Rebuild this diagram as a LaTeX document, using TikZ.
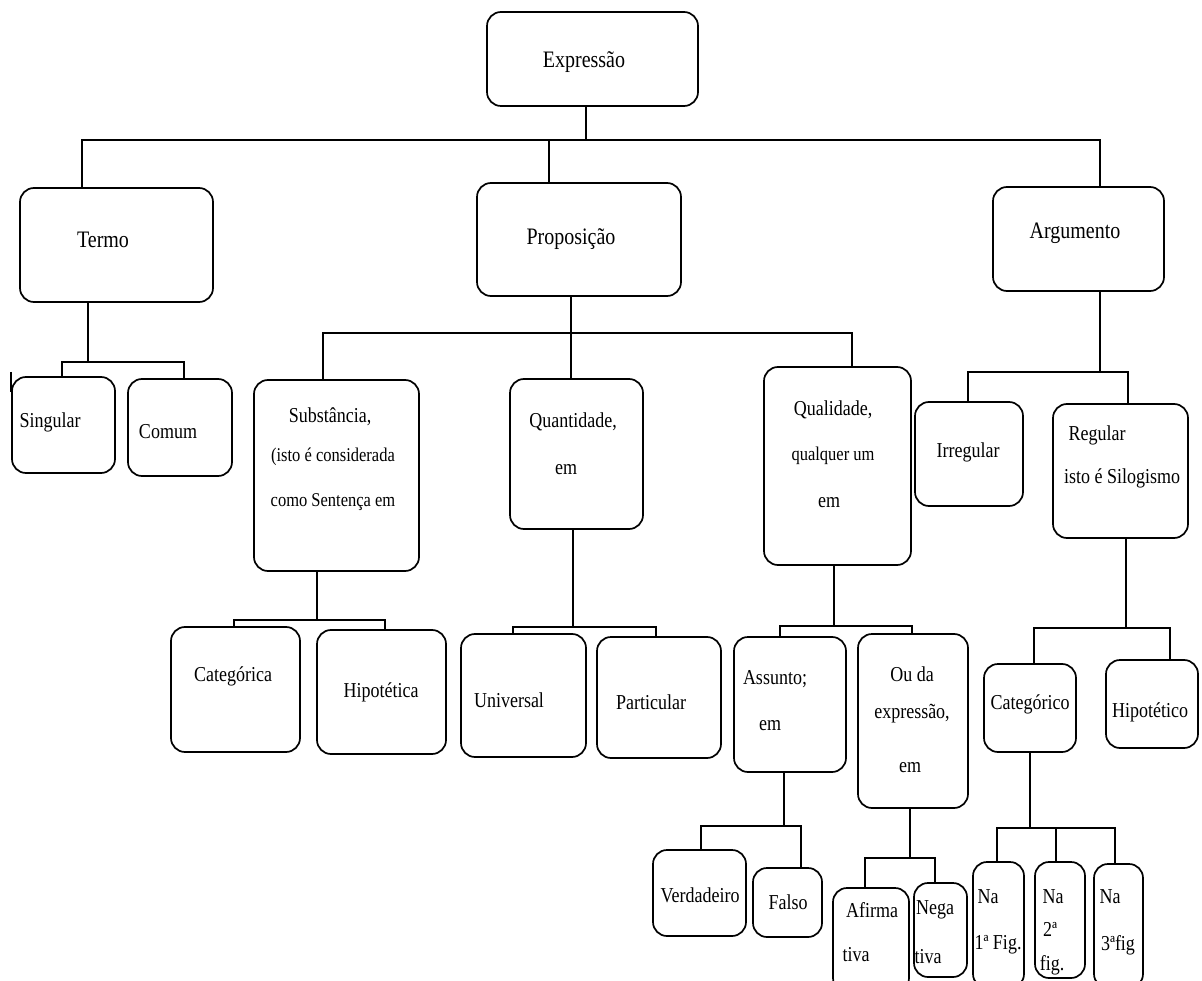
\documentclass[tikz,border=0pt]{standalone}
\usepackage{fontspec}
\setmainfont{Liberation Serif}
\usepackage{graphicx}
\newcommand\stretchtxt[1]{\scalebox{1}[1.18]{#1}}
\tikzset{
  box/.style={draw, line width=1.7pt, rounded corners=14pt, inner sep=0pt},
  lbl/.style={inner sep=0pt, font=\fontsize{18}{20}\selectfont},
  biglbl/.style={lbl, font=\fontsize{20}{22}\selectfont},
  smalllbl/.style={lbl, font=\fontsize{16.5}{18}\selectfont},
  conn/.style={line width=1.7pt},
}
\begin{document}
\begin{tikzpicture}[x=1pt,y=-1pt]
\useasboundingbox (0,0) rectangle (1202,981);
\clip (0,0) rectangle (1202,981);
% boxes
\node[box, minimum width=211pt, minimum height=94pt] (expr) at (592.5,59) {};
\node[box, minimum width=193pt, minimum height=114pt] (termo) at (116.5,245) {};
\node[box, minimum width=204pt, minimum height=113pt] (prop) at (579,239.5) {};
\node[box, minimum width=171pt, minimum height=104pt] (arg) at (1078.5,239) {};
\node[box, minimum width=103pt, minimum height=96pt] (sing) at (63.5,425) {};
\node[box, minimum width=104pt, minimum height=97pt] (comum) at (180,427.5) {};
\node[box, minimum width=165pt, minimum height=191pt] (subst) at (336.5,475.5) {};
\node[box, minimum width=133pt, minimum height=150pt] (quant) at (576.5,454) {};
\node[box, minimum width=147pt, minimum height=198pt] (qual) at (837.5,466) {};
\node[box, minimum width=108pt, minimum height=104pt] (irreg) at (969,454) {};
\node[box, minimum width=135pt, minimum height=134pt] (reg) at (1120.5,471) {};
\node[box, minimum width=129pt, minimum height=125pt] (catga) at (235.5,689.5) {};
\node[box, minimum width=129pt, minimum height=124pt] (hipa) at (381.5,692) {};
\node[box, minimum width=125pt, minimum height=123pt] (univ) at (523.5,695.5) {};
\node[box, minimum width=124pt, minimum height=121pt] (partic) at (659,697.5) {};
\node[box, minimum width=112pt, minimum height=135pt] (assunto) at (790,704.5) {};
\node[box, minimum width=110pt, minimum height=174pt] (ouda) at (913,721) {};
\node[box, minimum width=92pt, minimum height=88pt] (catgo) at (1030,708) {};
\node[box, minimum width=92pt, minimum height=88pt] (hipo) at (1152,704) {};
\node[box, minimum width=93pt, minimum height=86pt] (verd) at (699.5,893) {};
\node[box, minimum width=69pt, minimum height=69pt] (falso) at (787.5,902.5) {};
\node[box, minimum width=76pt, minimum height=104pt] (afirma) at (871,940) {};
\node[box, minimum width=53pt, minimum height=94pt] (nega) at (940.5,930) {};
\node[box, minimum width=51pt, minimum height=126pt] (na1) at (998.5,925) {};
\node[box, minimum width=50pt, minimum height=116pt] (na2) at (1060,920) {};
\node[box, minimum width=49pt, minimum height=124pt] (na3) at (1118.5,926) {};
% labels
\node[biglbl] (t-expr) at (584,62) {\stretchtxt{Expressão}};
\node[biglbl] (t-termo) at (103,240) {\stretchtxt{Termo}};
\node[biglbl] (t-prop) at (571,239) {\stretchtxt{Proposição}};
\node[biglbl] (t-arg) at (1075,233) {\stretchtxt{Argumento}};
\node[lbl] (t-sing) at (50,422) {\stretchtxt{Singular}};
\node[lbl] (t-comum) at (168,432) {\stretchtxt{Comum}};
\node[lbl] (t-subst1) at (330,417) {\stretchtxt{Substância,}};
\node[smalllbl] (t-subst2) at (333,457) {\stretchtxt{(isto é considerada}};
\node[smalllbl] (t-subst3) at (333,502) {\stretchtxt{como Sentença em}};
\node[lbl] (t-quant1) at (573,422) {\stretchtxt{Quantidade,}};
\node[lbl] (t-quant2) at (566,470) {\stretchtxt{em}};
\node[lbl] (t-qual1) at (833,410) {\stretchtxt{Qualidade,}};
\node[smalllbl] (t-qual2) at (833,456) {\stretchtxt{qualquer um}};
\node[lbl] (t-qual3) at (829,503) {\stretchtxt{em}};
\node[lbl] (t-irreg) at (968,452) {\stretchtxt{Irregular}};
\node[lbl] (t-reg1) at (1097,435) {\stretchtxt{Regular}};
\node[lbl] (t-reg2) at (1122,478) {\stretchtxt{isto é Silogismo}};
\node[lbl] (t-catga) at (233,676) {\stretchtxt{Categórica}};
\node[lbl] (t-hipa) at (381,692) {\stretchtxt{Hipotética}};
\node[lbl] (t-univ) at (509,700) {\stretchtxt{Universal}};
\node[lbl] (t-partic) at (651,702) {\stretchtxt{Particular}};
\node[lbl] (t-ass1) at (775,679) {\stretchtxt{Assunto;}};
\node[lbl] (t-ass2) at (770,726) {\stretchtxt{em}};
\node[lbl] (t-ouda1) at (912,674) {\stretchtxt{Ou da}};
\node[lbl] (t-ouda2) at (912,714) {\stretchtxt{expressão,}};
\node[lbl] (t-ouda3) at (910,768) {\stretchtxt{em}};
\node[lbl] (t-verd) at (700,895) {\stretchtxt{Verdadeiro}};
\node[lbl] (t-falso) at (788,902) {\stretchtxt{Falso}};
\node[lbl] (t-afirma1) at (872,910) {\stretchtxt{Afirma}};
\node[lbl] (t-afirma2) at (856,955) {\stretchtxt{tiva}};
\node[lbl] (t-nega1) at (935,910) {\stretchtxt{Nega}};
\node[lbl] (t-nega2) at (928,957) {\stretchtxt{tiva}};
\node[lbl] (t-catgo) at (1030,704) {\stretchtxt{Categórico}};
\node[lbl] (t-hipo) at (1150,712) {\stretchtxt{Hipotético}};
\node[lbl] (t-na1a) at (988,897) {\stretchtxt{Na}};
\node[lbl] (t-na1b) at (998,945) {\stretchtxt{1ª Fig.}};
\node[lbl] (t-na2a) at (1053,897) {\stretchtxt{Na}};
\node[lbl] (t-na2b) at (1050,929) {\stretchtxt{2ª}};
\node[lbl] (t-na2c) at (1052,965) {\stretchtxt{fig.}};
\node[lbl] (t-na3a) at (1110,897) {\stretchtxt{Na}};
\node[lbl] (t-na3b) at (1118,945) {\stretchtxt{3ªfig}};
% connectors
\draw[conn] (586,0 |- expr.south) -- (586,140);
\draw[conn] (82,0 |- termo.north) -- (82,140) -- (1100,140) -- (1100,0 |- arg.north);
\draw[conn] (549,140) -- (549,0 |- prop.north);
% termo
\draw[conn] (88,0 |- termo.south) -- (88,362);
\draw[conn] (62,0 |- sing.north) -- (62,362) -- (184,362) -- (184,0 |- comum.north);
\draw[conn] (11,372) -- (11,392);
% prop
\draw[conn] (571,0 |- prop.south) -- (571,0 |- quant.north);
\draw[conn] (323,0 |- subst.north) -- (323,333) -- (852,333) -- (852,0 |- qual.north);
% arg
\draw[conn] (1100,0 |- arg.south) -- (1100,372);
\draw[conn] (968,0 |- irreg.north) -- (968,372) -- (1128,372) -- (1128,0 |- reg.north);
% subst
\draw[conn] (317,0 |- subst.south) -- (317,620);
\draw[conn] (234,0 |- catga.north) -- (234,620) -- (385,620) -- (385,0 |- hipa.north);
% quant
\draw[conn] (573,0 |- quant.south) -- (573,627);
\draw[conn] (513,0 |- univ.north) -- (513,627) -- (656,627) -- (656,0 |- partic.north);
% qual
\draw[conn] (834,0 |- qual.south) -- (834,626);
\draw[conn] (780,0 |- assunto.north) -- (780,626) -- (912,626) -- (912,0 |- ouda.north);
% reg
\draw[conn] (1126,0 |- reg.south) -- (1126,628);
\draw[conn] (1034,0 |- catgo.north) -- (1034,628) -- (1170,628) -- (1170,0 |- hipo.north);
% assunto
\draw[conn] (784,0 |- assunto.south) -- (784,826);
\draw[conn] (701,0 |- verd.north) -- (701,826) -- (801,826) -- (801,0 |- falso.north);
% ouda
\draw[conn] (910,0 |- ouda.south) -- (910,858);
\draw[conn] (865,0 |- afirma.north) -- (865,858) -- (935,858) -- (935,0 |- nega.north);
% catgo
\draw[conn] (1030,0 |- catgo.south) -- (1030,828);
\draw[conn] (997,0 |- na1.north) -- (997,828) -- (1115,828) -- (1115,0 |- na3.north);
\draw[conn] (1056,828) -- (1056,0 |- na2.north);
\end{tikzpicture}
\end{document}
